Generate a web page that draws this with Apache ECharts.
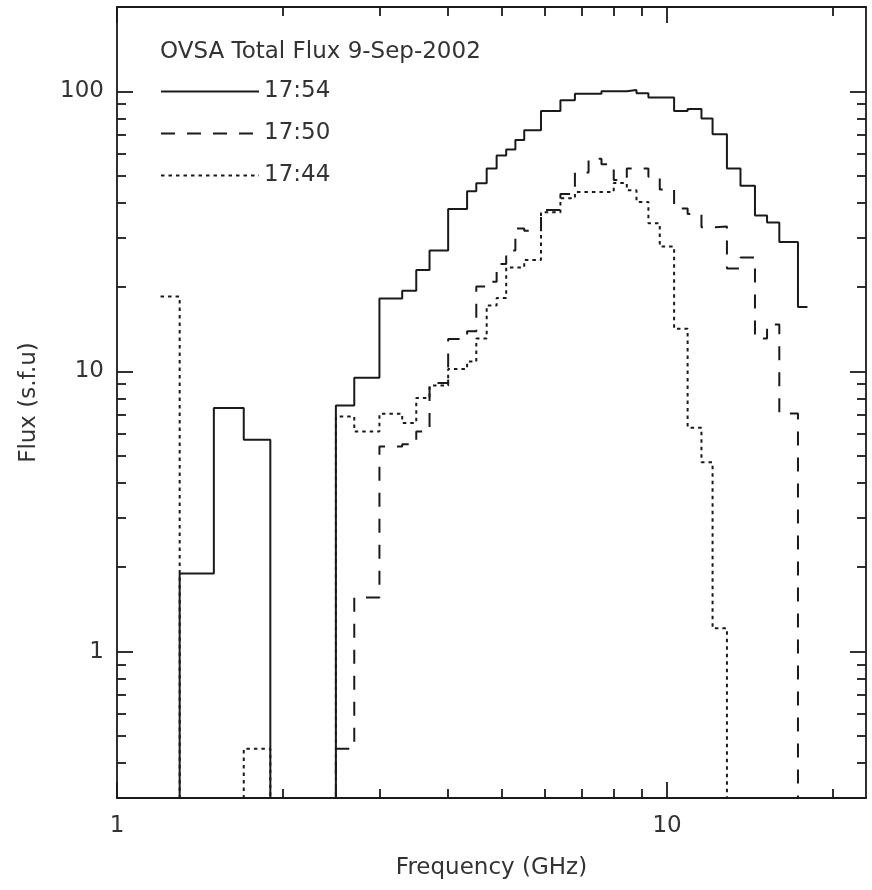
<!DOCTYPE html>
<html>
<head>
<meta charset="utf-8">
<script src="https://cdn.jsdelivr.net/npm/echarts/dist/echarts.min.js"></script>
<style>
html, body { margin: 0; padding: 0; background: #fff; }
#main { width: 872px; height: 890px; }
</style>
</head>
<body>
<div id="main"></div>
<script>
// OVSA total flux spectra, 9-Sep-2002
var belowRange = 0.05; // channels below the plotted range (drawn off the bottom)
var L = belowRange;

// channel edges in GHz (39 channels)
var binEdges = [1.2, 1.3, 1.5, 1.7, 1.9, 2.5, 2.7, 3.0, 3.3, 3.5, 3.7, 4.0, 4.33, 4.5, 4.7, 4.9,
    5.1, 5.3, 5.5, 5.9, 6.4, 6.8, 7.2, 7.6, 8.0, 8.45, 8.8, 9.25, 9.7, 10.3, 10.9, 11.55,
    12.1, 12.85, 13.6, 14.45, 15.2, 16.0, 17.3, 18.0];

// flux in s.f.u per channel
var flux1754 = [L, 1.9, 7.4, 5.7, L, 7.55, 9.5, 18.2, 19.4, 23, 27, 38, 44, 47, 53, 59,
    62, 67, 72.6, 85, 93, 98, 98, 100, 100, 101, 98.4, 95, 95, 85, 86.5, 80,
    70.3, 53, 46, 36, 34, 29, 17];
var flux1750 = [L, L, L, L, L, 0.45, 1.56, 5.4, 5.5, 6.1, 9.1, 13.05, 13.9, 20.1, 20.9, 24.2,
    27, 32.4, 31.8, 37.7, 43, 51.3, 57.5, 54.9, 48.2, 53, 53, 49.5, 44.6, 38.2, 36.5, 32.7,
    32.9, 23.3, 25.5, 13.1, 14.7, 7.07, L];
var flux1744 = [18.5, L, L, 0.45, L, 6.9, 6.1, 7.06, 6.55, 8.04, 8.9, 10.2, 10.85, 13.1, 17.2, 18.3,
    23.5, 23.5, 25, 37, 41.5, 43.7, 43.7, 43.7, 47.1, 44.3, 40.3, 33.8, 27.9, 14.2, 6.3, 4.74,
    1.21, L, L, L, L, L, L];

var seriesNames = ['17:54', '17:50', '17:44'];

// axis ticks
var xRange = [1, 23];
var yRange = [0.3, 200];
var xMajor = [1, 10];
var xMinor = [2, 3, 4, 5, 6, 7, 8, 9, 20];
var yMajor = [1, 10, 100];
var yMinor = [0.4, 0.5, 0.6, 0.7, 0.8, 0.9, 2, 3, 4, 5, 6, 7, 8, 9, 20, 30, 40, 50, 60, 70, 80, 90];

var ink = '#1a1a1a';
var textColor = '#333';
var fontFamily = 'DejaVu Sans';

function stepData(vals) {
    // one point per channel start, plus the last edge to close the last channel
    return binEdges.map(function (e, i) {
        return [e, vals[Math.min(i, vals.length - 1)]];
    });
}

function makeAxis(type, range, pos, ticks, len, showLine, showLabels) {
    return {
        type: 'log',
        logBase: 10,
        position: pos,
        min: range[0],
        max: range[1],
        axisLine: { show: showLine, lineStyle: { color: ink, width: 1.8 } },
        axisTick: { show: true, inside: true, length: len, customValues: ticks,
            lineStyle: { color: ink, width: 1.8 } },
        axisLabel: { show: showLabels, customValues: ticks, color: textColor,
            fontFamily: fontFamily, fontSize: 23, margin: type === 'x' ? 17 : 13 },
        splitLine: { show: false },
        minorTick: { show: false },
        minorSplitLine: { show: false }
    };
}

var myChart = echarts.init(document.getElementById('main'));

var xBottom = makeAxis('x', xRange, 'bottom', xMajor, 16, true, true);
xBottom.name = 'Frequency (GHz)';
xBottom.nameLocation = 'middle';
xBottom.nameGap = 59;
xBottom.nameMoveOverlap = false;
xBottom.nameTextStyle = { color: textColor, fontFamily: fontFamily, fontSize: 23 };

var yLeft = makeAxis('y', yRange, 'left', yMajor, 16, true, true);
yLeft.name = 'Flux (s.f.u)';
yLeft.nameLocation = 'middle';
yLeft.nameGap = 76;
yLeft.nameMoveOverlap = false;
yLeft.nameTextStyle = { color: textColor, fontFamily: fontFamily, fontSize: 23 };

var lineStyles = [
    { color: ink, width: 2, type: 'solid' },
    { color: ink, width: 2, type: [14, 12] },
    { color: ink, width: 2, type: [3.5, 4] }
];
var fluxes = [flux1754, flux1750, flux1744];

var option = {
    animation: false,
    backgroundColor: '#fff',
    title: {
        text: 'OVSA Total Flux 9-Sep-2002',
        left: 155,
        top: 36,
        textStyle: { color: textColor, fontFamily: fontFamily, fontSize: 23, fontWeight: 'normal' }
    },
    legend: {
        orient: 'vertical',
        left: 155,
        top: 75,
        itemWidth: 98,
        itemHeight: 14,
        itemGap: 19,
        data: seriesNames,
        itemStyle: { opacity: 0 },
        textStyle: { color: textColor, fontFamily: fontFamily, fontSize: 23, lineHeight: 23 }
    },
    grid: {
        left: 117,
        right: 6,
        top: 7,
        bottom: 92,
        containLabel: false,
        outerBoundsMode: 'none'
    },
    xAxis: [
        xBottom,
        makeAxis('x', xRange, 'bottom', xMinor, 9, false, false),
        makeAxis('x', xRange, 'top', xMajor, 16, true, false),
        makeAxis('x', xRange, 'top', xMinor, 9, false, false)
    ],
    yAxis: [
        yLeft,
        makeAxis('y', yRange, 'left', yMinor, 9, false, false),
        makeAxis('y', yRange, 'right', yMajor, 16, true, false),
        makeAxis('y', yRange, 'right', yMinor, 9, false, false)
    ],
    series: seriesNames.map(function (name, k) {
        return {
            name: name,
            type: 'line',
            step: 'end',
            symbol: 'none',
            xAxisIndex: 0,
            yAxisIndex: 0,
            clip: true,
            lineStyle: lineStyles[k],
            itemStyle: { color: ink },
            data: stepData(fluxes[k])
        };
    })
};

myChart.setOption(option);
</script>
</body>
</html>
